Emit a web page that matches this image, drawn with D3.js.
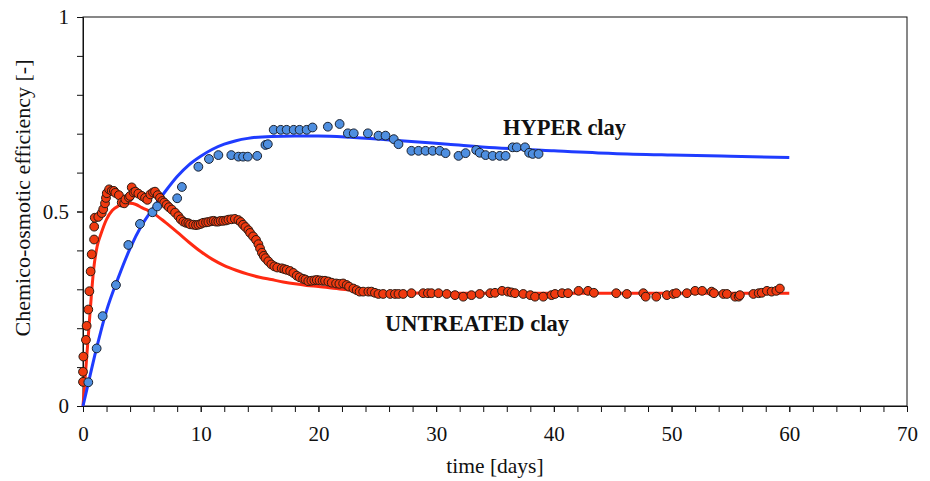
<!DOCTYPE html>
<html>
<head>
<meta charset="utf-8">
<script src="https://cdn.jsdelivr.net/npm/d3@7"></script>
<style>
  html, body { margin: 0; padding: 0; background: #fff; }
  svg text { font-family: "Liberation Serif", "Times New Roman", serif; fill: #111; }
</style>
</head>
<body>
<svg id="chart" width="930" height="481"></svg>
<script>
// Measured efficiency, HYPER clay: [day, efficiency]
const hyperData = [
  [0.45,0.061],[1.16,0.148],[1.67,0.231],[2.8,0.311],[3.85,0.414],[4.84,0.468],
  [5.9,0.498],[6.3,0.513],[8.0,0.534],[8.4,0.563],[9.8,0.615],[10.7,0.635],
  [11.5,0.645],[12.6,0.645],[13.2,0.641],[13.6,0.641],[14.0,0.641],[14.8,0.643],
  [15.5,0.671],[15.7,0.673],[16.2,0.71],[16.8,0.71],[17.3,0.71],[17.9,0.71],
  [18.4,0.71],[19.0,0.71],[19.5,0.716],[20.8,0.718],[21.8,0.725],[22.5,0.701],
  [23.0,0.701],[24.2,0.701],[25.1,0.695],[25.7,0.695],[26.4,0.686],[26.8,0.673],
  [27.9,0.656],[28.5,0.656],[29.1,0.656],[29.7,0.656],[30.3,0.656],[30.8,0.65],
  [31.9,0.643],[32.5,0.65],[33.4,0.658],[33.7,0.651],[34.2,0.645],[34.8,0.643],
  [35.4,0.643],[35.9,0.643],[36.5,0.665],[36.85,0.665],[37.55,0.665],[37.9,0.651],
  [38.2,0.648],[38.7,0.648]
];

// Measured efficiency, UNTREATED clay: [day, efficiency]
const untreatedData = [
  [0.0,0.062],[0.0,0.088],[0.03,0.127],[0.25,0.17],[0.31,0.206],[0.45,0.248],
  [0.54,0.295],[0.65,0.346],[0.74,0.39],[0.94,0.428],[0.95,0.461],[1.0,0.484],
  [1.3,0.486],[1.59,0.496],[1.72,0.506],[1.87,0.521],[1.95,0.535],[2.02,0.547],
  [2.22,0.557],[2.44,0.553],[2.62,0.553],[2.75,0.548],[3.05,0.542],[3.29,0.523],
  [3.5,0.521],[3.6,0.531],[3.9,0.536],[4.0,0.54],[4.14,0.562],[4.3,0.549],
  [4.45,0.551],[4.7,0.546],[5.0,0.54],[5.27,0.535],[5.47,0.53],[5.72,0.544],
  [5.95,0.549],[6.12,0.551],[6.35,0.542],[6.54,0.535],[6.74,0.527],[6.9,0.523],
  [7.1,0.517],[7.3,0.511],[7.54,0.505],[7.82,0.497],[8.1,0.488],[8.3,0.48],
  [8.52,0.474],[8.75,0.471],[8.95,0.47],[9.1,0.467],[9.37,0.466],[9.6,0.465],
  [9.8,0.466],[10.0,0.468],[10.2,0.471],[10.45,0.472],[10.65,0.473],[10.9,0.475],
  [11.1,0.476],[11.3,0.474],[11.5,0.474],[11.7,0.476],[11.92,0.476],[12.15,0.477],
  [12.35,0.479],[12.6,0.48],[12.9,0.481],[13.2,0.478],[13.4,0.473],[13.6,0.466],
  [13.8,0.46],[14.05,0.452],[14.2,0.445],[14.45,0.436],[14.7,0.427],[14.9,0.416],
  [15.04,0.405],[15.2,0.394],[15.35,0.386],[15.5,0.38],[15.74,0.372],[16.0,0.364],
  [16.25,0.359],[16.5,0.356],[16.88,0.354],[17.1,0.352],[17.3,0.35],[17.6,0.347],
  [17.87,0.342],[18.16,0.335],[18.4,0.331],[18.7,0.327],[18.9,0.325],[19.14,0.321],
  [19.4,0.322],[19.65,0.323],[19.86,0.324],[20.1,0.323],[20.35,0.322],[20.56,0.322],
  [20.84,0.32],[21.13,0.317],[21.5,0.315],[21.78,0.314],[22.1,0.315],[22.4,0.311],
  [22.6,0.307],[22.97,0.302],[23.25,0.298],[23.5,0.294],[23.8,0.294],[24.24,0.294],
  [24.5,0.294],[24.8,0.291],[25.1,0.288],[25.5,0.288],[26.1,0.288],[26.5,0.288],
  [26.8,0.288],[27.2,0.288],[27.9,0.29],[28.9,0.29],[29.3,0.29],[29.6,0.29],
  [30.2,0.29],[30.9,0.288],[31.6,0.285],[32.3,0.281],[33.0,0.285],[33.7,0.288],
  [34.6,0.29],[35.0,0.291],[35.6,0.296],[36.1,0.294],[36.4,0.292],[36.7,0.29],
  [37.4,0.288],[38.0,0.285],[38.4,0.281],[39.1,0.281],[39.8,0.285],[40.1,0.288],
  [40.7,0.29],[41.2,0.29],[42.1,0.296],[42.9,0.296],[43.4,0.291],[45.3,0.29],
  [46.2,0.288],[47.6,0.29],[47.8,0.281],[48.7,0.281],[49.6,0.285],[50.15,0.288],
  [50.4,0.29],[51.3,0.29],[52.0,0.296],[52.6,0.296],[53.4,0.294],[53.6,0.29],
  [54.4,0.288],[54.7,0.288],[55.4,0.281],[55.7,0.281],[55.8,0.285],[56.95,0.288],
  [57.4,0.29],[57.66,0.291],[58.1,0.296],[58.5,0.294],[58.9,0.296],[59.2,0.302]
];

// Model curves: [day, efficiency]
const hyperModel = [
  [0,0],[0.5,0.065],[1,0.13],[1.5,0.19],[2,0.245],[3,0.33],[4,0.405],[5,0.465],
  [6,0.51],[7,0.552],[8,0.59],[9,0.62],[10,0.642],[11,0.66],[12,0.673],[13,0.682],
  [14,0.688],[16,0.693],[18,0.694],[20,0.694],[23,0.69],[27,0.682],[31,0.673],
  [35,0.664],[40,0.656],[45,0.649],[50,0.645],[55,0.642],[60,0.639]
];
const untreatedModel = [
  [0,0],[0.2,0.08],[0.45,0.18],[0.7,0.28],[0.9,0.35],[1.2,0.41],[1.5,0.44],
  [2,0.48],[2.5,0.503],[3,0.514],[3.5,0.52],[4,0.521],[4.5,0.518],[5,0.51],
  [6,0.495],[7,0.472],[8,0.447],[9,0.421],[10,0.397],[11,0.377],[12,0.361],
  [13,0.349],[14,0.339],[15,0.331],[16,0.325],[17,0.319],[18,0.314],[19,0.31],
  [20,0.307],[22,0.3],[24,0.295],[26,0.292],[30,0.29],[40,0.29],[50,0.29],[60,0.29]
];

// Axis ticks and labels
const xMajorTicks = [0,10,20,30,40,50,60,70];
const xMinorTicks = d3.range(0, 71, 2);
const yMajorTicks = [0,0.5,1];
const yMinorTicks = d3.range(0, 1.0001, 0.1);
const seriesLabels = ["HYPER clay", "UNTREATED clay"];
const xTitle = "time [days]";
const yTitle = "Chemico-osmotic efficiency [-]";

const svg = d3.select("#chart");
const margin = {left: 83, right: 23, top: 17, bottom: 75};
const W = 930, H = 481;

const x = d3.scaleLinear().domain([0, 70]).range([margin.left, W - margin.right]);
const y = d3.scaleLinear().domain([0, 1]).range([H - margin.bottom, margin.top]);

// Frame
svg.append("rect")
  .attr("x", x(0)).attr("y", y(1))
  .attr("width", x(70) - x(0)).attr("height", y(0) - y(1))
  .attr("fill", "none").attr("stroke", "#111").attr("stroke-width", 1);

// Minor ticks (unlabelled)
const xAxisMinor = d3.axisBottom(x).tickValues(xMinorTicks).tickSize(6).tickFormat("");
const yAxisMinor = d3.axisLeft(y).tickValues(yMinorTicks).tickSize(6).tickFormat("");
svg.append("g").attr("transform", `translate(0,${y(0)})`).call(xAxisMinor)
  .call(g => g.select(".domain").attr("stroke", "#111"));
svg.append("g").attr("transform", `translate(${x(0)},0)`).call(yAxisMinor)
  .call(g => g.select(".domain").attr("stroke", "#111"));

// Major tick labels
const xAxis = d3.axisBottom(x).tickValues(xMajorTicks).tickSize(6).tickPadding(14)
  .tickFormat(d3.format("d"));
const yAxis = d3.axisLeft(y).tickValues(yMajorTicks).tickSize(6).tickPadding(8)
  .tickFormat(d => d === 0.5 ? "0.5" : d3.format("d")(d));
svg.append("g").attr("transform", `translate(0,${y(0)})`).call(xAxis)
  .call(g => g.select(".domain").remove())
  .call(g => g.selectAll("text").attr("font-size", 21).attr("font-family", "Liberation Serif"));
svg.append("g").attr("transform", `translate(${x(0)},0)`).call(yAxis)
  .call(g => g.select(".domain").remove())
  .call(g => g.selectAll("text").attr("font-size", 21).attr("font-family", "Liberation Serif"));

svg.selectAll(".tick line").attr("stroke", "#111");

// Axis titles
svg.append("text")
  .attr("x", (x(0) + x(70)) / 2).attr("y", 473)
  .attr("text-anchor", "middle").attr("font-size", 21.5)
  .text(xTitle);
svg.append("text")
  .attr("transform", `translate(30,198) rotate(-90)`)
  .attr("text-anchor", "middle").attr("font-size", 22)
  .text(yTitle);

// Model lines
const line = d3.line().x(d => x(d[0])).y(d => y(d[1])).curve(d3.curveMonotoneX);
svg.append("path").datum(untreatedModel).attr("d", line)
  .attr("fill", "none").attr("stroke", "#ff2a12").attr("stroke-width", 3);
svg.append("path").datum(hyperModel).attr("d", line)
  .attr("fill", "none").attr("stroke", "#1f3cff").attr("stroke-width", 3);

// Measured points
svg.append("g").selectAll("circle").data(untreatedData).join("circle")
  .attr("cx", d => x(d[0])).attr("cy", d => y(d[1])).attr("r", 4.4)
  .attr("fill", "#f03a10").attr("stroke", "#2a1a12").attr("stroke-width", 1);
svg.append("g").selectAll("circle").data(hyperData).join("circle")
  .attr("cx", d => x(d[0])).attr("cy", d => y(d[1])).attr("r", 4.4)
  .attr("fill", "#4f8fe0").attr("stroke", "#1a2230").attr("stroke-width", 1);

// Series labels
svg.append("text").attr("x", 503).attr("y", 135)
  .attr("font-size", 22.5).attr("font-weight", "bold").text(seriesLabels[0]);
svg.append("text").attr("x", 385).attr("y", 331)
  .attr("font-size", 22.5).attr("font-weight", "bold").text(seriesLabels[1]);
</script>
</body>
</html>
